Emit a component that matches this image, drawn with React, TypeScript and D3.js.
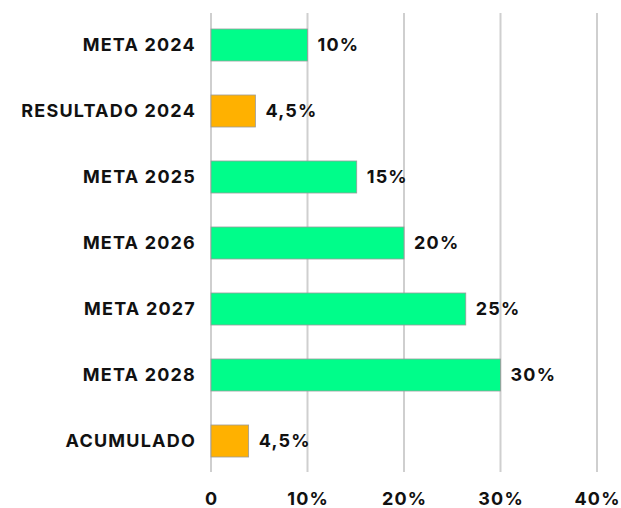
import { useEffect, useRef } from "react";
import * as d3 from "d3";

const categories = ["META 2024", "RESULTADO 2024", "META 2025", "META 2026", "META 2027", "META 2028", "ACUMULADO"];
const values = [10, 4.6, 15.1, 20, 26.4, 30, 3.9];
const valueLabels = ["10%", "4,5%", "15%", "20%", "25%", "30%", "4,5%"];
const barColors = ["#00fd8a", "#ffb100", "#00fd8a", "#00fd8a", "#00fd8a", "#00fd8a", "#ffb100"];
const ticks = [0, 10, 20, 30, 40];
const tickLabels = ["0", "10%", "20%", "30%", "40%"];

const App = () => {
  const svgRef = useRef<SVGSVGElement>(null);

  useEffect(() => {
    const WIDTH = 621;
    const HEIGHT = 508;
    const FONT = "Inter, 'Noto Sans', sans-serif";
    const SIZE = 18;
    const SPACING = 1.2;

    const x = d3.scaleLinear().domain([0, 40]).range([211, 597]);
    const y = d3.scaleBand<string>().domain(categories).range([12, 474]).paddingInner(0.515).paddingOuter(0.2575);

    const svg = d3.select(svgRef.current).attr("width", WIDTH).attr("height", HEIGHT);
    svg.selectAll("*").remove();

    // vertical grid
    svg
      .append("g")
      .selectAll("line")
      .data(ticks)
      .enter()
      .append("line")
      .attr("x1", (d) => x(d))
      .attr("x2", (d) => x(d))
      .attr("y1", 13)
      .attr("y2", 472)
      .attr("stroke", "#cfcfcf")
      .attr("stroke-width", 2);

    // tick labels
    svg
      .append("g")
      .selectAll("text")
      .data(ticks)
      .enter()
      .append("text")
      .text((d, i) => tickLabels[i])
      .attr("x", (d) => x(d) + SPACING / 2)
      .attr("y", 505)
      .attr("text-anchor", "middle")
      .attr("font-family", FONT)
      .attr("font-weight", 700)
      .attr("font-size", SIZE)
      .attr("letter-spacing", SPACING)
      .attr("fill", "#111");

    // bars
    svg
      .append("g")
      .selectAll("rect")
      .data(values)
      .enter()
      .append("rect")
      .attr("x", x(0))
      .attr("y", (d, i) => y(categories[i])!)
      .attr("width", (d) => x(d) - x(0))
      .attr("height", y.bandwidth())
      .attr("fill", (d, i) => barColors[i])
      .attr("stroke", "#9a9a9a")
      .attr("stroke-width", 0.8);

    // value labels
    svg
      .append("g")
      .selectAll("text")
      .data(values)
      .enter()
      .append("text")
      .text((d, i) => valueLabels[i])
      .attr("x", (d) => x(d) + 10)
      .attr("y", (d, i) => y(categories[i])! + y.bandwidth() / 2)
      .attr("dy", "0.35em")
      .attr("font-family", FONT)
      .attr("font-weight", 700)
      .attr("font-size", SIZE)
      .attr("letter-spacing", SPACING)
      .attr("fill", "#111");

    // category labels
    svg
      .append("g")
      .selectAll("text")
      .data(categories)
      .enter()
      .append("text")
      .text((d) => d)
      .attr("x", 196)
      .attr("y", (d) => y(d)! + y.bandwidth() / 2)
      .attr("dy", "0.35em")
      .attr("text-anchor", "end")
      .attr("font-family", FONT)
      .attr("font-weight", 700)
      .attr("font-size", SIZE)
      .attr("letter-spacing", SPACING)
      .attr("fill", "#111");
  }, []);

  return <svg ref={svgRef} style={{ position: "absolute", left: 0, top: 0 }} />;
};

export default App;
